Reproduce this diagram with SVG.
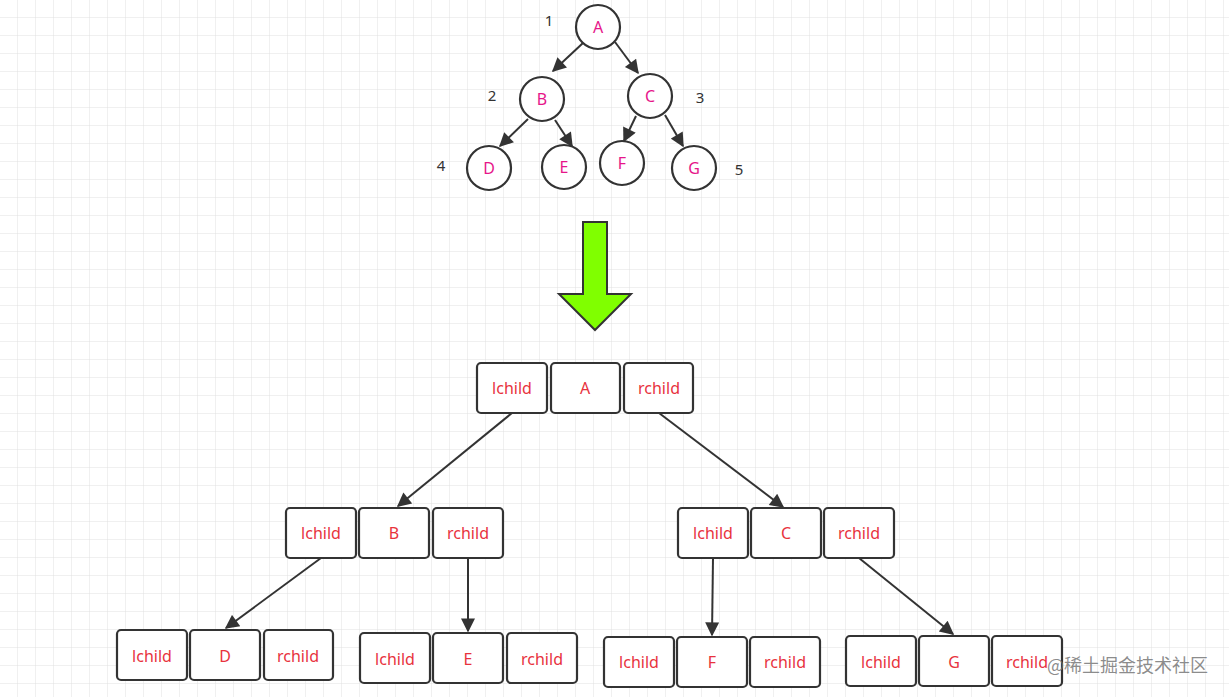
<svg xmlns="http://www.w3.org/2000/svg" width="1229" height="697" viewBox="0 0 1229 697">
<defs>
<pattern id="grid" width="18" height="18" patternUnits="userSpaceOnUse"><path d="M18 0V18H0" fill="none" stroke="#e0e0e0" stroke-width="1"/></pattern>
<marker id="ab" viewBox="0 0 10 10" refX="9" refY="5" markerWidth="16" markerHeight="14" orient="auto" markerUnits="userSpaceOnUse"><path d="M0 0L10 5L0 10z" fill="#333"/></marker>
<style>
.c{fill:#fff;stroke:#333;stroke-width:2.2}
.b{fill:#fff;stroke:#333;stroke-width:2.2}
.ct{font-family:"Noto Sans","Liberation Sans",sans-serif;font-size:16px;fill:#e6168a;text-anchor:middle;dominant-baseline:central}
.bt{font-family:"Noto Sans","Liberation Sans",sans-serif;font-size:16px;fill:#e8333d;text-anchor:middle;dominant-baseline:central}
.n{font-family:"Noto Sans","Liberation Sans",sans-serif;font-size:15px;fill:#333;text-anchor:middle;dominant-baseline:central}
.e{fill:none;stroke:#333;stroke-width:2}
</style>
</defs>
<rect width="1229" height="697" fill="#fff"/>
<rect width="1229" height="697" fill="url(#grid)"/>
<g id="connectors">
<path class="e" marker-end="url(#ab)" d="M583 43L553 71"/>
<path class="e" marker-end="url(#ab)" d="M615 42L638 73"/>
<path class="e" marker-end="url(#ab)" d="M528 119L500 146"/>
<path class="e" marker-end="url(#ab)" d="M555 120L572 146"/>
<path class="e" marker-end="url(#ab)" d="M636 116L624 141"/>
<path class="e" marker-end="url(#ab)" d="M665 115L683 146"/>
<path class="e" marker-end="url(#ab)" d="M512 413L398 506"/>
<path class="e" marker-end="url(#ab)" d="M659 413L783 507"/>
<path class="e" marker-end="url(#ab)" d="M321 558L226 628"/>
<path class="e" marker-end="url(#ab)" d="M468 558L468 631"/>
<path class="e" marker-end="url(#ab)" d="M713 558L712 635"/>
<path class="e" marker-end="url(#ab)" d="M859 558L953 634"/>
</g>
<g id="labels">
<text class="n" x="549" y="20">1</text>
<text class="n" x="492" y="95">2</text>
<text class="n" x="700" y="97">3</text>
<text class="n" x="441" y="165">4</text>
<text class="n" x="739" y="169">5</text>
</g>
<g id="nA"><circle class="c" cx="598" cy="27" r="22"/><text class="ct" x="598" y="27">A</text></g>
<g id="nB"><circle class="c" cx="542" cy="99" r="22"/><text class="ct" x="542" y="99">B</text></g>
<g id="nC"><circle class="c" cx="650" cy="96" r="22"/><text class="ct" x="650" y="96">C</text></g>
<g id="nD"><circle class="c" cx="489" cy="168" r="22"/><text class="ct" x="489" y="168">D</text></g>
<g id="nE"><circle class="c" cx="564" cy="167" r="22"/><text class="ct" x="564" y="167">E</text></g>
<g id="nF"><circle class="c" cx="622" cy="163" r="22"/><text class="ct" x="622" y="163">F</text></g>
<g id="nG"><circle class="c" cx="694" cy="168" r="22"/><text class="ct" x="694" y="168">G</text></g>
<g id="bigArrow"><path d="M583 222H607V294H631L595 330L559 294H583Z" fill="#80ff00" stroke="#333" stroke-width="2"/></g>
<g id="rA">
<rect class="b" x="477" y="363" width="70" height="50" rx="4"/><text class="bt" x="512" y="388">lchild</text>
<rect class="b" x="551" y="363" width="69" height="50" rx="4"/><text class="bt" x="585" y="388">A</text>
<rect class="b" x="624" y="363" width="69" height="50" rx="4"/><text class="bt" x="659" y="388">rchild</text>
</g>
<g id="rB">
<rect class="b" x="286" y="508" width="70" height="50" rx="4"/><text class="bt" x="321" y="533">lchild</text>
<rect class="b" x="359" y="508" width="70" height="50" rx="4"/><text class="bt" x="394" y="533">B</text>
<rect class="b" x="433" y="508" width="70" height="50" rx="4"/><text class="bt" x="468" y="533">rchild</text>
</g>
<g id="rC">
<rect class="b" x="678" y="508" width="70" height="50" rx="4"/><text class="bt" x="713" y="533">lchild</text>
<rect class="b" x="751" y="508" width="70" height="50" rx="4"/><text class="bt" x="786" y="533">C</text>
<rect class="b" x="824" y="508" width="70" height="50" rx="4"/><text class="bt" x="859" y="533">rchild</text>
</g>
<g id="rD">
<rect class="b" x="117" y="630" width="70" height="50" rx="4"/><text class="bt" x="152" y="656">lchild</text>
<rect class="b" x="190" y="630" width="70" height="50" rx="4"/><text class="bt" x="225" y="656">D</text>
<rect class="b" x="264" y="630" width="69" height="50" rx="4"/><text class="bt" x="298" y="656">rchild</text>
</g>
<g id="rE">
<rect class="b" x="360" y="633" width="70" height="50" rx="4"/><text class="bt" x="395" y="659">lchild</text>
<rect class="b" x="433" y="633" width="70" height="50" rx="4"/><text class="bt" x="468" y="659">E</text>
<rect class="b" x="507" y="633" width="70" height="50" rx="4"/><text class="bt" x="542" y="659">rchild</text>
</g>
<g id="rF">
<rect class="b" x="604" y="637" width="70" height="50" rx="4"/><text class="bt" x="639" y="662">lchild</text>
<rect class="b" x="677" y="637" width="70" height="50" rx="4"/><text class="bt" x="712" y="662">F</text>
<rect class="b" x="750" y="637" width="70" height="50" rx="4"/><text class="bt" x="785" y="662">rchild</text>
</g>
<g id="rG">
<rect class="b" x="846" y="636" width="70" height="50" rx="4"/><text class="bt" x="881" y="662">lchild</text>
<rect class="b" x="919" y="636" width="70" height="50" rx="4"/><text class="bt" x="954" y="662">G</text>
<rect class="b" x="992" y="636" width="70" height="50" rx="4"/><text class="bt" x="1027" y="662">rchild</text>
</g>
<text x="1047" y="672" font-family="'Noto Sans CJK SC',sans-serif" font-size="18" fill="#777" fill-opacity="0.85">@稀土掘金技术社区</text>
</svg>
